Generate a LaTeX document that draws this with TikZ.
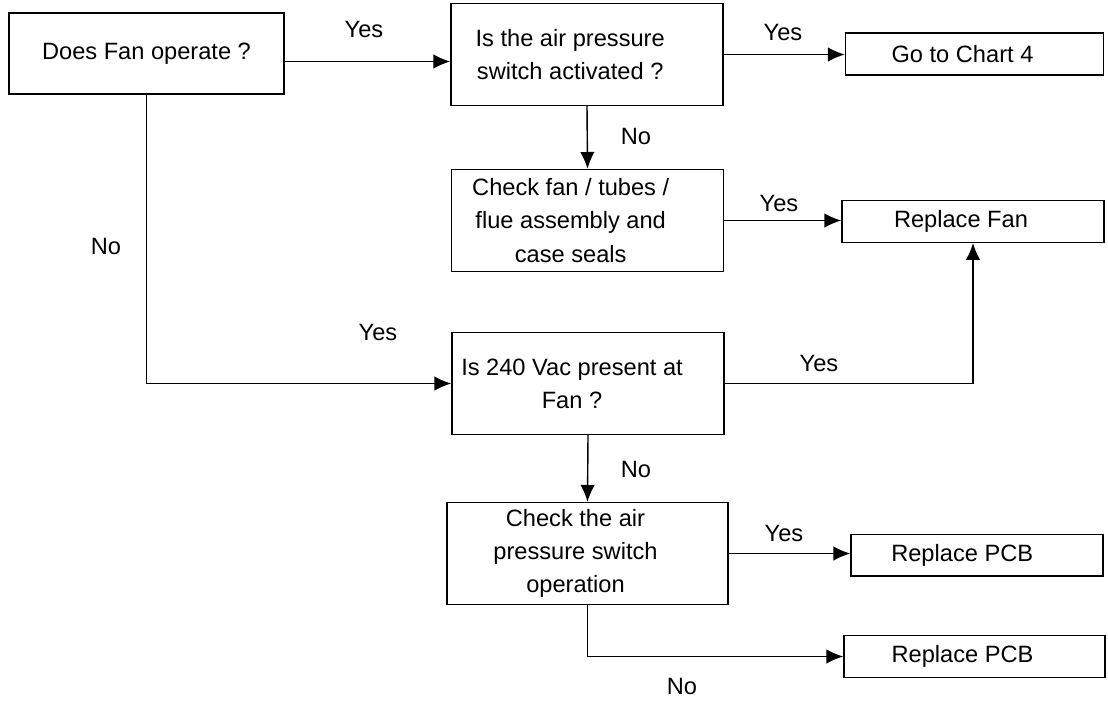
\documentclass[tikz,border=0pt]{standalone}
\usepackage{fontspec}
\setmainfont{Liberation Sans}
\usetikzlibrary{arrows.meta}
\tikzset{
    box/.style={draw, line width=1pt, inner sep=0pt},
    big/.style={box, minimum width=6.8cm, minimum height=2.55cm},
    small/.style={box, minimum width=6.45cm, minimum height=1.04cm},
    txt/.style={align=center, font=\fontsize{16.8}{23.5}\selectfont},
    tag/.style={font=\fontsize{16.8}{23.5}\selectfont},
    flow/.style={line width=1pt, -{Latex[length=4.2mm,width=3.6mm]}}
}

\begin{document}
\begin{tikzpicture}[x=0.025cm,y=-0.025cm]
            \useasboundingbox (0,0) rectangle (1108,700);
            \node[box, minimum width=6.875cm, minimum height=2.025cm, txt] (fan) at (146.5,53.5) {Does Fan operate ?};
            \node[big, label={[txt,xshift=-0.42cm]center:Is the air pressure\\switch activated ?}] (air) at (587,54.5) {};
            \node[small, label={[txt,xshift=-0.3cm]center:Go to Chart 4}] (chart) at (974.5,54) {};
            \node[big, label={[txt,xshift=-0.42cm]center:Check fan / tubes /\\flue assembly and\\case seals}] (seals) at (587.5,220.5) {};
            \node[small, minimum width=6.55cm, label={[txt,xshift=-0.3cm]center:Replace Fan}] (rfan) at (973,221.5) {};
            \node[big, label={[txt,xshift=-0.4cm]center:Is 240 Vac present at\\Fan ?}] (vac) at (588,383.5) {};
            \node[big, minimum width=7.025cm, label={[txt,xshift=-0.3cm]center:Check the air\\pressure switch\\operation}] (aps) at (587.5,553.5) {};
            \node[small, minimum width=6.3cm, label={[txt,xshift=-0.37cm]center:Replace PCB}] (pcba) at (977,555) {};
            \node[small, minimum width=6.525cm, label={[txt,xshift=-0.3cm]center:Replace PCB}] (pcbb) at (974.5,656.5) {};

            \draw[flow] ([yshift=-0.2cm]fan.east) -- ([yshift=-0.2cm]fan.east -| air.west);
            \draw[flow] (air.east) -- (air.east -| chart.west);
            \draw[flow] (air.south) -- (seals.north);
            \draw[flow] (seals.east) -- (seals.east -| rfan.west);
            \draw[flow] (fan.south) |- (vac.west);
            \draw[flow] (vac.east) -| (rfan.south);
            \draw[flow] (vac.south) -- (aps.north);
            \draw[flow] (aps.east) -- (aps.east -| pcba.west);
            \draw[flow] (aps.south) |- (pcbb.west);

            \foreach \x/\y/\t/\n in {364/29/Yes/ya, 783/32/Yes/yb, 636/136/No/na, 779/203/Yes/yc,
                106/246/No/nb, 378/332/Yes/yd, 819/363/Yes/ye, 636/469/No/nc, 784/533/Yes/yf, 682/686/No/nd}{
                \node[tag] (\n) at (\x,\y) {\t};
            }
        \end{tikzpicture}
\end{document}
